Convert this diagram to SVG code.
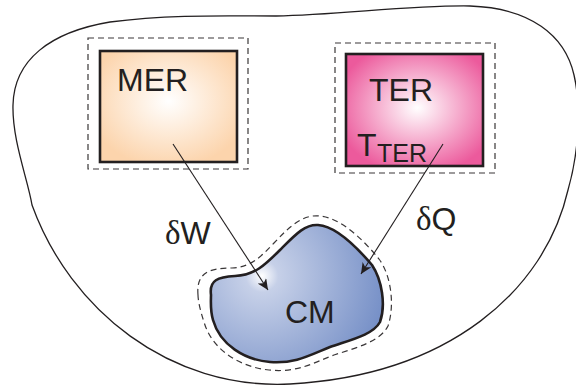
<svg xmlns="http://www.w3.org/2000/svg" width="576" height="385" viewBox="0 0 576 385">
<style>
.lbl{font-family:"Liberation Sans",Arial,sans-serif;font-size:32px;fill:#231f20}
.sub{font-family:"Liberation Sans",Arial,sans-serif;font-size:25px;fill:#231f20}
.greek{font-family:"Liberation Serif","Times New Roman",serif;font-size:33px;fill:#231f20}
.solid{stroke:#231f20;stroke-width:2.6}
.dash{fill:none;stroke:#3a3738;stroke-width:1.2;stroke-dasharray:6 4}
.conn{stroke:#231f20;stroke-width:1.1;fill:none;marker-end:url(#ah)}
</style>
<defs>
<radialGradient id="gMER" cx="0.5" cy="0.45" r="0.6">
<stop offset="0" stop-color="#ffffff"/>
<stop offset="1" stop-color="#fcd4ac"/>
</radialGradient>
<radialGradient id="gTER" cx="0.52" cy="0.48" r="0.6">
<stop offset="0" stop-color="#ffffff"/>
<stop offset="1" stop-color="#ec5a9c"/>
</radialGradient>
<radialGradient id="gCM" gradientUnits="userSpaceOnUse" cx="262" cy="276" r="135">
<stop offset="0" stop-color="#ffffff"/>
<stop offset="0.12" stop-color="#c6d0e8"/>
<stop offset="1" stop-color="#6f8ac4"/>
</radialGradient>
<marker id="ah" markerWidth="12" markerHeight="10" refX="11" refY="5" orient="auto" markerUnits="userSpaceOnUse">
<path d="M0,0 L11,5 L0,10 L3,5 Z" fill="#231f20"/>
</marker>
</defs>
<g id="system">
<path d="M276,16 C340,15 410,5 470,6 C530,8 565,35 574,75 C582,110 578,155 568,190 C545,290 450,375 290,384 C170,390 70,310 32,205 C28,180 12,140 13,105 C14,60 50,32 110,22 C170,14 230,16 276,16 Z" fill="none" stroke="#231f20" stroke-width="1.3"/>
</g>
<g id="MER">
<rect class="dash" x="88" y="38" width="160" height="131"/>
<rect class="solid" x="100" y="51" width="137" height="111" fill="url(#gMER)"/>
<text class="lbl" x="117" y="91">MER</text>
</g>
<g id="TER">
<rect class="dash" x="335" y="43" width="160" height="130"/>
<rect class="solid" x="346" y="54" width="137" height="112" fill="url(#gTER)"/>
<text class="lbl" x="369" y="101">TER</text>
<text class="lbl" x="357" y="156">T</text>
<text class="sub" x="377" y="162">TER</text>
</g>
<g id="CM">
<path class="dash" d="M198,295 C196,272 210,268 232,268 C250,267 260,258 274,243 C290,226 303,214 320,216 C340,218 362,238 379,259 C391,275 395,305 388,326 C380,342 355,348 334,355 C313,363 297,373 269,370 C240,367 212,350 204,322 C200,310 198,300 198,295 Z"/>
<path class="solid" fill="url(#gCM)" d="M211,295 C209,280 218,277 235,276 C255,275 265,265 280,250 C295,235 305,224 318,225 C335,226 355,245 372,265 C382,280 386,305 380,322 C373,335 350,340 330,347 C310,355 295,364 270,362 C245,360 220,345 213,320 C210,310 211,300 211,295 Z"/>
<text class="lbl" x="285" y="323">CM</text>
</g>
<g id="connectors">
<line class="conn" x1="173" y1="144" x2="268" y2="290"/>
<line class="conn" x1="443" y1="144" x2="361" y2="274"/>
</g>
<g id="labels">
<text x="165" y="244"><tspan class="greek">δ</tspan><tspan class="lbl">W</tspan></text>
<text x="416" y="230"><tspan class="greek">δ</tspan><tspan class="lbl">Q</tspan></text>
</g>
</svg>
